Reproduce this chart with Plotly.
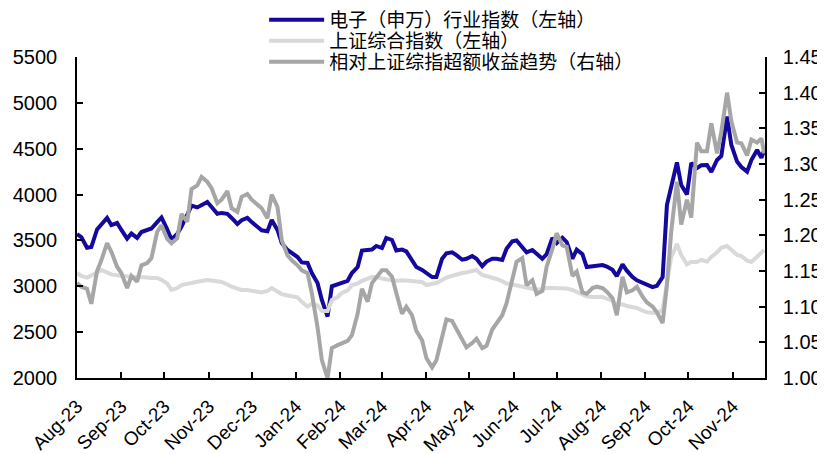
import plotly.graph_objects as go

dates = [
    "2023-08-01","2023-08-04","2023-08-08","2023-08-11","2023-08-15","2023-08-18","2023-08-22","2023-08-25","2023-08-29",
    "2023-09-01","2023-09-05","2023-09-08","2023-09-12","2023-09-15","2023-09-19","2023-09-22","2023-09-26","2023-09-29",
    "2023-10-03","2023-10-06","2023-10-10","2023-10-13","2023-10-17","2023-10-20","2023-10-24","2023-10-27","2023-10-31",
    "2023-11-03","2023-11-07","2023-11-10","2023-11-14","2023-11-17","2023-11-21","2023-11-24","2023-11-28",
    "2023-12-01","2023-12-05","2023-12-08","2023-12-12","2023-12-15","2023-12-19","2023-12-22","2023-12-26","2023-12-29",
    "2024-01-02","2024-01-05","2024-01-09","2024-01-12","2024-01-16","2024-01-19","2024-01-23","2024-01-26","2024-01-30",
    "2024-02-02","2024-02-06","2024-02-09","2024-02-13","2024-02-16","2024-02-20","2024-02-23","2024-02-26",
    "2024-03-01","2024-03-04","2024-03-08","2024-03-11","2024-03-15","2024-03-18","2024-03-22","2024-03-25","2024-03-29",
    "2024-04-01","2024-04-05","2024-04-08","2024-04-12","2024-04-15","2024-04-19","2024-04-22","2024-04-26","2024-04-29",
    "2024-05-03","2024-05-06","2024-05-10","2024-05-13","2024-05-17","2024-05-20","2024-05-24","2024-05-27","2024-05-31",
    "2024-06-03","2024-06-07","2024-06-10","2024-06-14","2024-06-17","2024-06-21","2024-06-24","2024-06-28",
    "2024-07-01","2024-07-05","2024-07-08","2024-07-12","2024-07-15","2024-07-19","2024-07-22","2024-07-26","2024-07-29",
    "2024-08-02","2024-08-05","2024-08-09","2024-08-12","2024-08-16","2024-08-19","2024-08-23","2024-08-26","2024-08-30",
    "2024-09-02","2024-09-06","2024-09-09","2024-09-13","2024-09-16","2024-09-19","2024-09-23","2024-09-26","2024-09-30",
    "2024-10-03","2024-10-07","2024-10-10","2024-10-14","2024-10-17","2024-10-21","2024-10-24","2024-10-28","2024-10-31",
    "2024-11-04","2024-11-07","2024-11-11","2024-11-14","2024-11-18","2024-11-21","2024-11-23",
]

electronics = [
    3570, 3537, 3420, 3428, 3620, 3680, 3745, 3668, 3690,
    3614, 3520, 3575, 3527, 3592, 3610, 3630, 3700, 3750,
    3620, 3510, 3570, 3650, 3780, 3880, 3860, 3886, 3919,
    3865, 3790, 3800, 3790, 3745, 3680, 3720, 3745,
    3700, 3650, 3610, 3600, 3723, 3614, 3472, 3396, 3363,
    3319, 3260, 3254, 3145, 3036, 2851, 2670, 3000, 3020,
    3040, 3060, 3145, 3210, 3390, 3400, 3400, 3440,
    3417, 3527, 3505, 3390, 3400, 3380, 3287, 3210, 3178,
    3150, 3100, 3100, 3300, 3360, 3370, 3340, 3290, 3300,
    3330, 3300, 3220, 3270, 3300, 3300, 3287, 3410, 3490,
    3500, 3428, 3370, 3396, 3350, 3300, 3350, 3527,
    3470, 3530, 3483, 3300, 3400, 3350, 3210, 3215, 3225,
    3232, 3215, 3180, 3110, 3240, 3170, 3100, 3065, 3040,
    3020, 2992, 3005, 3100, 3886, 4104, 4350, 4104, 4000,
    4344, 4290, 4320, 4322, 4246, 4377, 4420, 4850, 4541,
    4360, 4301, 4250, 4377, 4486, 4400, 4486,
]

sse = [
    3145, 3112, 3095, 3115, 3150, 3178, 3150, 3130, 3120,
    3112, 3110, 3104, 3101, 3101, 3095, 3090, 3090, 3070,
    3030, 2960, 2981, 3014, 3030, 3040, 3050, 3058, 3068,
    3062, 3055, 3047, 3020, 2995, 2975, 2960, 2960,
    2955, 2940, 2932, 2950, 2981, 2945, 2915, 2900, 2890,
    2880, 2830, 2780, 2810, 2790, 2730, 2730, 2851, 2883,
    2927, 2955, 3014, 3030, 3060, 3090, 3101, 3101,
    3085, 3075, 3069, 3060, 3065, 3065, 3058, 3052, 3047,
    3014, 3030, 3036, 3069, 3095, 3115, 3130, 3145, 3152,
    3165, 3178, 3123, 3112, 3101, 3080, 3055, 3030, 3020,
    3010, 2995, 2980, 2970, 2962, 2970, 2981, 2981,
    2981, 2981, 2975, 2960, 2940, 2905, 2890, 2883, 2883,
    2883, 2865, 2845, 2800, 2805, 2785, 2770, 2763, 2735,
    2718, 2709, 2709, 2742, 3014, 3319, 3460, 3341, 3240,
    3265, 3265, 3287, 3270, 3320, 3370, 3420, 3440, 3400,
    3341, 3330, 3280, 3265, 3320, 3360, 3396,
]

excess = [
    1.133, 1.128, 1.125, 1.104, 1.150, 1.165, 1.189, 1.177, 1.156,
    1.147, 1.126, 1.143, 1.135, 1.158, 1.161, 1.168, 1.205, 1.214,
    1.195, 1.189, 1.196, 1.230, 1.219, 1.265, 1.270, 1.282, 1.275,
    1.266, 1.245, 1.250, 1.262, 1.238, 1.233, 1.254, 1.258,
    1.250, 1.243, 1.238, 1.224, 1.257, 1.240, 1.193, 1.172, 1.165,
    1.158, 1.151, 1.147, 1.119, 1.071, 1.025, 1.000, 1.042, 1.046,
    1.049, 1.052, 1.060, 1.090, 1.125, 1.107, 1.133, 1.140,
    1.151, 1.151, 1.142, 1.119, 1.090, 1.100, 1.088, 1.066, 1.053,
    1.028, 1.015, 1.025, 1.060, 1.082, 1.080, 1.068, 1.052, 1.043,
    1.049, 1.055, 1.042, 1.045, 1.068, 1.076, 1.088, 1.105, 1.137,
    1.163, 1.168, 1.130, 1.137, 1.118, 1.122, 1.156, 1.181,
    1.203, 1.186, 1.184, 1.143, 1.149, 1.120, 1.118, 1.126, 1.128,
    1.126, 1.121, 1.112, 1.088, 1.142, 1.120, 1.123, 1.128, 1.114,
    1.106, 1.100, 1.092, 1.077, 1.130, 1.205, 1.275, 1.215, 1.250,
    1.225, 1.330, 1.318, 1.318, 1.357, 1.315, 1.345, 1.400, 1.360,
    1.330, 1.329, 1.312, 1.334, 1.330, 1.336, 1.315,
]

month_ticks = [
    "2023-08-01","2023-09-01","2023-10-01","2023-11-01","2023-12-01","2024-01-01",
    "2024-02-01","2024-03-01","2024-04-01","2024-05-01","2024-06-01","2024-07-01",
    "2024-08-01","2024-09-01","2024-10-01","2024-11-01",
]
month_labels = [
    "Aug-23","Sep-23","Oct-23","Nov-23","Dec-23","Jan-24","Feb-24","Mar-24",
    "Apr-24","May-24","Jun-24","Jul-24","Aug-24","Sep-24","Oct-24","Nov-24",
]
left_ticks = [2000, 2500, 3000, 3500, 4000, 4500, 5000, 5500]
right_ticks = [1.00, 1.05, 1.10, 1.15, 1.20, 1.25, 1.30, 1.35, 1.40, 1.45]

names = ["电子（申万）行业指数（左轴）", "上证综合指数（左轴）", "相对上证综指超额收益趋势（右轴）"]

fig = go.Figure()
fig.add_trace(go.Scatter(x=dates, y=electronics, name=names[0], mode="lines",
                         legend="legend", line=dict(color="#15089C", width=4)))
fig.add_trace(go.Scatter(x=dates, y=sse, name=names[1], mode="lines",
                         legend="legend2", line=dict(color="#D9D9D9", width=4)))
fig.add_trace(go.Scatter(x=dates, y=excess, name=names[2], mode="lines", yaxis="y2",
                         legend="legend3", line=dict(color="#A6A6A6", width=4)))

axis_common = dict(showline=True, linecolor="black", linewidth=1.5, showgrid=False,
                   zeroline=False, ticks="inside", ticklen=6, tickcolor="black",
                   tickwidth=1.5, automargin=False)

legend_common = dict(x=0.272, xanchor="left", yanchor="middle",
                     font=dict(family="Noto Sans CJK SC", size=19, color="black"),
                     itemwidth=55, bgcolor="rgba(0,0,0,0)")

fig.update_layout(
    template="none",
    width=825, height=454,
    margin=dict(l=69, r=68, t=49, b=84, autoexpand=False),
    plot_bgcolor="white", paper_bgcolor="white",
    font=dict(family="Liberation Sans, Arial, sans-serif", size=20, color="black"),
    showlegend=True,
    legend=dict(y=1.1153, **legend_common),
    legend2=dict(y=1.0498, **legend_common),
    legend3=dict(y=0.9844, **legend_common),
    xaxis=dict(type="date", range=["2023-08-01", "2024-11-23 12:00"],
               tickvals=month_ticks, ticktext=month_labels, tickangle=-45,
               tickfont=dict(size=19), ticklabelstandoff=8, **axis_common),
    yaxis=dict(range=[2000, 5500], tickvals=left_ticks, tickfont=dict(size=20),
               ticklabelstandoff=14, **axis_common),
    yaxis2=dict(range=[1.0, 1.45], tickvals=right_ticks, tickformat=".2f",
                overlaying="y", side="right", tickfont=dict(size=20),
                ticklabelstandoff=12, **axis_common),
)

fig.write_html("out.html")
